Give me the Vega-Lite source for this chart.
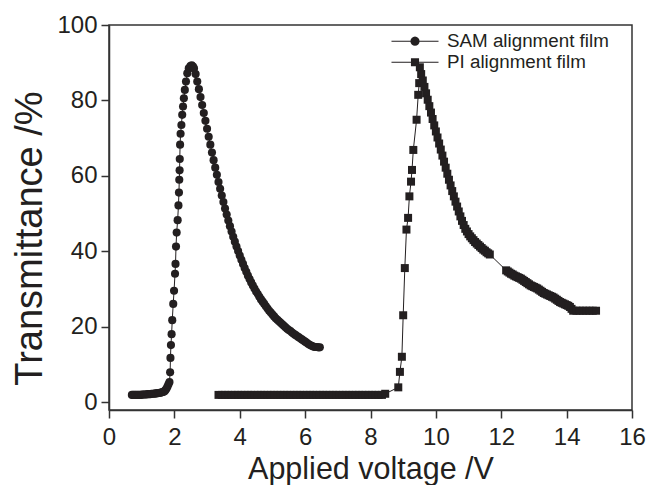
{
  "$schema": "https://vega.github.io/schema/vega-lite/v6.json",
  "width": 523,
  "height": 385,
  "autosize": {"type": "none"},
  "padding": {"left": 109, "top": 25, "right": 25, "bottom": 75},
  "background": "white",
  "config": {
    "view": {"stroke": "#333333", "strokeWidth": 1.5},
    "font": "Liberation Sans"
  },
  "datasets": {
    "sam": [
      {"x":0.70,"y":2.0},{"x":0.74,"y":2.0},{"x":0.78,"y":2.0},{"x":0.82,"y":2.0},{"x":0.86,"y":2.0},{"x":0.90,"y":2.0},{"x":0.94,"y":2.0},{"x":0.98,"y":2.0},
      {"x":1.02,"y":2.1},{"x":1.06,"y":2.1},{"x":1.10,"y":2.1},{"x":1.14,"y":2.1},{"x":1.18,"y":2.2},{"x":1.22,"y":2.2},{"x":1.26,"y":2.2},{"x":1.30,"y":2.3},
      {"x":1.34,"y":2.3},{"x":1.38,"y":2.3},{"x":1.42,"y":2.4},{"x":1.46,"y":2.4},{"x":1.50,"y":2.5},{"x":1.54,"y":2.5},{"x":1.58,"y":2.6},{"x":1.62,"y":2.7},
      {"x":1.66,"y":2.8},{"x":1.70,"y":3.0},{"x":1.73,"y":3.3},{"x":1.76,"y":3.7},{"x":1.79,"y":4.2},{"x":1.82,"y":4.8},{"x":1.85,"y":5.4},
      {"x":1.87,"y":8.0},{"x":1.88,"y":11.8},{"x":1.895,"y":15.2},{"x":1.915,"y":18.1},{"x":1.935,"y":21.8},{"x":1.965,"y":26.1},{"x":1.99,"y":29.6},
      {"x":2.02,"y":34.1},{"x":2.035,"y":36.7},{"x":2.05,"y":41.3},{"x":2.07,"y":45.0},{"x":2.10,"y":48.3},{"x":2.125,"y":52.2},{"x":2.14,"y":55.6},
      {"x":2.15,"y":59.0},{"x":2.16,"y":61.5},{"x":2.165,"y":64.5},{"x":2.175,"y":68.3},{"x":2.19,"y":71.2},{"x":2.215,"y":73.5},{"x":2.24,"y":76.2},
      {"x":2.265,"y":78.4},{"x":2.29,"y":80.6},{"x":2.32,"y":82.8},{"x":2.355,"y":85.0},{"x":2.395,"y":87.2},{"x":2.44,"y":88.5},{"x":2.49,"y":89.1},
      {"x":2.53,"y":89.3},{"x":2.57,"y":89.0},{"x":2.60,"y":88.5},{"x":2.65,"y":87.0},{"x":2.70,"y":85.0},{"x":2.75,"y":83.0},{"x":2.80,"y":80.9},
      {"x":2.85,"y":78.8},{"x":2.90,"y":76.7},{"x":2.95,"y":74.6},{"x":3.00,"y":72.5},{"x":3.05,"y":70.4},{"x":3.10,"y":68.3},{"x":3.15,"y":66.2},
      {"x":3.20,"y":64.2},{"x":3.25,"y":62.2},{"x":3.30,"y":60.3},{"x":3.35,"y":58.4},{"x":3.40,"y":56.6},{"x":3.45,"y":54.8},{"x":3.50,"y":53.1},
      {"x":3.55,"y":51.4},{"x":3.60,"y":49.8},{"x":3.65,"y":48.2},{"x":3.70,"y":46.7},{"x":3.75,"y":45.3},{"x":3.80,"y":43.9},{"x":3.85,"y":42.6},
      {"x":3.90,"y":41.3},{"x":3.95,"y":40.1},{"x":4.00,"y":38.9},{"x":4.05,"y":37.8},{"x":4.10,"y":36.7},{"x":4.15,"y":35.6},{"x":4.20,"y":34.6},
      {"x":4.25,"y":33.6},{"x":4.30,"y":32.7},{"x":4.35,"y":31.8},{"x":4.40,"y":31.0},{"x":4.45,"y":30.2},{"x":4.50,"y":29.4},{"x":4.55,"y":28.7},
      {"x":4.60,"y":28.0},{"x":4.65,"y":27.3},{"x":4.70,"y":26.7},{"x":4.75,"y":26.1},{"x":4.80,"y":25.5},{"x":4.85,"y":24.9},{"x":4.90,"y":24.3},
      {"x":4.95,"y":23.8},{"x":5.00,"y":23.3},{"x":5.05,"y":22.8},{"x":5.10,"y":22.3},{"x":5.15,"y":21.9},{"x":5.20,"y":21.5},{"x":5.25,"y":21.1},
      {"x":5.30,"y":20.7},{"x":5.35,"y":20.3},{"x":5.40,"y":19.9},{"x":5.45,"y":19.5},{"x":5.50,"y":19.2},{"x":5.55,"y":18.9},{"x":5.60,"y":18.5},
      {"x":5.65,"y":18.2},{"x":5.70,"y":17.9},{"x":5.75,"y":17.6},{"x":5.80,"y":17.3},{"x":5.85,"y":17.0},{"x":5.90,"y":16.7},{"x":5.95,"y":16.4},
      {"x":6.00,"y":16.1},{"x":6.05,"y":15.8},{"x":6.10,"y":15.5},{"x":6.15,"y":15.2},{"x":6.20,"y":15.0},{"x":6.25,"y":14.8},{"x":6.30,"y":14.7},
      {"x":6.35,"y":14.7},{"x":6.40,"y":14.6},{"x":6.45,"y":14.6}
    ],
    "pi": [
      {"x":3.35,"y":2.0},{"x":3.45,"y":2.0},{"x":3.55,"y":2.0},{"x":3.65,"y":2.0},{"x":3.75,"y":2.0},{"x":3.85,"y":2.0},{"x":3.95,"y":2.0},{"x":4.05,"y":2.0},
      {"x":4.15,"y":2.0},{"x":4.25,"y":2.0},{"x":4.35,"y":2.0},{"x":4.45,"y":2.0},{"x":4.55,"y":2.0},{"x":4.65,"y":2.0},{"x":4.75,"y":2.0},{"x":4.85,"y":2.0},
      {"x":4.95,"y":2.0},{"x":5.05,"y":2.0},{"x":5.15,"y":2.0},{"x":5.25,"y":2.0},{"x":5.35,"y":2.0},{"x":5.45,"y":2.0},{"x":5.55,"y":2.0},{"x":5.65,"y":2.0},
      {"x":5.75,"y":2.0},{"x":5.85,"y":2.0},{"x":5.95,"y":2.0},{"x":6.05,"y":2.0},{"x":6.15,"y":2.0},{"x":6.25,"y":2.0},{"x":6.35,"y":2.0},{"x":6.45,"y":2.0},
      {"x":6.55,"y":2.0},{"x":6.65,"y":2.0},{"x":6.75,"y":2.0},{"x":6.85,"y":2.0},{"x":6.95,"y":2.0},{"x":7.05,"y":2.0},{"x":7.15,"y":2.0},{"x":7.25,"y":2.0},
      {"x":7.35,"y":2.0},{"x":7.45,"y":2.0},{"x":7.55,"y":2.0},{"x":7.65,"y":2.0},{"x":7.75,"y":2.0},{"x":7.85,"y":2.0},{"x":7.95,"y":2.0},{"x":8.05,"y":2.0},
      {"x":8.15,"y":2.0},{"x":8.25,"y":2.0},{"x":8.35,"y":2.0},{"x":8.45,"y":2.3},
      {"x":8.85,"y":4.0},{"x":8.90,"y":8.1},{"x":8.96,"y":12.1},{"x":9.00,"y":23.1},{"x":9.05,"y":35.6},{"x":9.10,"y":45.8},{"x":9.15,"y":48.9},
      {"x":9.19,"y":54.6},{"x":9.24,"y":58.5},{"x":9.27,"y":61.6},{"x":9.31,"y":66.9},{"x":9.41,"y":74.9},{"x":9.46,"y":81.5},{"x":9.49,"y":84.6},
      {"x":9.51,"y":88.8},{"x":9.55,"y":87.0},{"x":9.60,"y":85.3},{"x":9.65,"y":83.6},{"x":9.70,"y":81.9},{"x":9.75,"y":80.2},{"x":9.80,"y":78.5},
      {"x":9.85,"y":76.8},{"x":9.90,"y":75.1},{"x":9.95,"y":73.4},{"x":10.00,"y":71.8},{"x":10.05,"y":70.2},{"x":10.10,"y":68.6},{"x":10.15,"y":67.0},
      {"x":10.20,"y":65.4},{"x":10.25,"y":63.8},{"x":10.30,"y":62.2},{"x":10.35,"y":60.6},{"x":10.40,"y":59.0},{"x":10.45,"y":57.5},{"x":10.50,"y":56.0},
      {"x":10.55,"y":54.6},{"x":10.60,"y":53.2},{"x":10.65,"y":51.9},{"x":10.70,"y":50.6},{"x":10.75,"y":49.3},{"x":10.80,"y":48.1},{"x":10.85,"y":47.0},
      {"x":10.90,"y":46.0},{"x":10.95,"y":45.3},{"x":11.00,"y":44.6},{"x":11.05,"y":44.0},{"x":11.10,"y":43.5},{"x":11.15,"y":43.0},{"x":11.20,"y":42.5},
      {"x":11.25,"y":42.1},{"x":11.30,"y":41.7},{"x":11.35,"y":41.3},{"x":11.40,"y":40.9},{"x":11.45,"y":40.5},{"x":11.50,"y":40.2},{"x":11.55,"y":39.8},
      {"x":11.60,"y":39.5},{"x":11.65,"y":39.2},
      {"x":12.15,"y":35.0},{"x":12.20,"y":34.7},{"x":12.25,"y":34.4},{"x":12.30,"y":34.1},{"x":12.35,"y":33.9},{"x":12.40,"y":33.6},{"x":12.45,"y":33.4},
      {"x":12.50,"y":33.2},{"x":12.55,"y":33.0},{"x":12.60,"y":32.8},{"x":12.65,"y":32.5},{"x":12.70,"y":32.2},{"x":12.75,"y":31.9},{"x":12.80,"y":31.6},
      {"x":12.85,"y":31.3},{"x":12.90,"y":31.0},{"x":12.95,"y":30.8},{"x":13.00,"y":30.6},{"x":13.05,"y":30.4},{"x":13.10,"y":30.2},{"x":13.15,"y":29.9},
      {"x":13.20,"y":29.6},{"x":13.25,"y":29.3},{"x":13.30,"y":29.0},{"x":13.35,"y":28.8},{"x":13.40,"y":28.6},{"x":13.45,"y":28.4},{"x":13.50,"y":28.2},
      {"x":13.55,"y":28.0},{"x":13.60,"y":27.8},{"x":13.65,"y":27.5},{"x":13.70,"y":27.2},{"x":13.75,"y":26.9},{"x":13.80,"y":26.6},{"x":13.85,"y":26.4},
      {"x":13.90,"y":26.2},{"x":13.95,"y":26.0},{"x":14.00,"y":25.8},{"x":14.05,"y":25.6},{"x":14.10,"y":25.3},{"x":14.15,"y":24.8},{"x":14.20,"y":24.3},
      {"x":14.30,"y":24.3},{"x":14.40,"y":24.3},{"x":14.50,"y":24.3},{"x":14.60,"y":24.3},{"x":14.70,"y":24.3},{"x":14.80,"y":24.3},{"x":14.90,"y":24.3}
    ]
  },
  "data": {"name": "sam"},
  "layer": [
    {
      "data": {"name": "sam"},
      "mark": {"type": "line", "color": "#231f20", "strokeWidth": 1},
      "encoding": {
        "x": {"field": "x", "type": "quantitative"},
        "y": {"field": "y", "type": "quantitative"}
      }
    },
    {
      "data": {"name": "pi"},
      "mark": {"type": "line", "color": "#231f20", "strokeWidth": 1},
      "encoding": {
        "x": {"field": "x", "type": "quantitative"},
        "y": {"field": "y", "type": "quantitative"}
      }
    },
    {
      "data": {"name": "sam"},
      "mark": {"type": "point", "shape": "circle", "filled": true, "color": "#231f20", "opacity": 1, "size": 66},
      "encoding": {
        "x": {"field": "x", "type": "quantitative"},
        "y": {"field": "y", "type": "quantitative"}
      }
    },
    {
      "data": {"name": "pi"},
      "mark": {"type": "point", "shape": "square", "filled": true, "color": "#231f20", "opacity": 1, "size": 64},
      "encoding": {
        "x": {"field": "x", "type": "quantitative"},
        "y": {"field": "y", "type": "quantitative"}
      }
    },
    {
      "data": {"name": "sam"},
      "transform": [{"calculate": "'SAM alignment film'", "as": "series"}],
      "mark": {"type": "point", "filled": true, "color": "#231f20", "opacity": 0, "size": 433},
      "encoding": {
        "x": {"field": "x", "type": "quantitative"},
        "y": {"field": "y", "type": "quantitative"},
        "shape": {"field": "series", "type": "nominal"}
      }
    },
    {
      "data": {"name": "pi"},
      "transform": [{"calculate": "'PI alignment film'", "as": "series"}],
      "mark": {"type": "point", "filled": true, "color": "#231f20", "opacity": 0, "size": 433},
      "encoding": {
        "x": {
          "field": "x", "type": "quantitative",
          "scale": {"domain": [0, 16], "nice": false, "zero": false},
          "axis": {
            "title": "Applied voltage /V",
            "values": [0,1,2,3,4,5,6,7,8,9,10,11,12,13,14,15,16],
            "labelExpr": "datum.value % 2 === 0 ? datum.label : ''",
            "grid": false,
            "domainColor": "#333333", "domainWidth": 1.5,
            "tickColor": "#333333", "tickWidth": 1.5, "tickSize": 8,
            "labelFont": "Liberation Sans", "labelFontSize": 24, "labelColor": "#231f20", "labelPadding": 7,
            "labelFlush": false, "labelOverlap": false,
            "titleFont": "Liberation Sans", "titleFontSize": 30.5, "titleFontWeight": "normal", "titleColor": "#231f20", "titlePadding": 5,
            "encode": {"ticks": {"update": {"y2": {"signal": "datum.value % 2 === 0 ? 8 : 4.5"}}}}
          }
        },
        "y": {
          "field": "y", "type": "quantitative",
          "scale": {"domain": [-2, 100], "nice": false, "zero": false},
          "axis": {
            "title": "Transmittance /%",
            "values": [0,10,20,30,40,50,60,70,80,90,100],
            "labelExpr": "datum.value % 20 === 0 ? datum.label : ''",
            "grid": false,
            "domainColor": "#333333", "domainWidth": 1.5,
            "tickColor": "#333333", "tickWidth": 1.5, "tickSize": 8,
            "labelFont": "Liberation Sans", "labelFontSize": 24, "labelColor": "#231f20", "labelPadding": 4,
            "labelFlush": false, "labelOverlap": false,
            "titleFont": "Liberation Sans", "titleFontSize": 38, "titleFontWeight": "normal", "titleColor": "#231f20", "titlePadding": 7,
            "titleY": 213,
            "encode": {"ticks": {"update": {"x2": {"signal": "datum.value % 20 === 0 ? -8 : -4.5"}}}}
          }
        },
        "shape": {
          "field": "series", "type": "nominal",
          "scale": {
            "domain": ["SAM alignment film", "PI alignment film"],
            "range": [
              "M -2.26 -0.05 L 2.26 -0.05 L 2.26 0.05 L -2.26 0.05 Z M 0.442 0 L 0.408 0.169 L 0.313 0.313 L 0.169 0.408 L 0 0.442 L -0.169 0.408 L -0.313 0.313 L -0.408 0.169 L -0.442 0 L -0.408 -0.169 L -0.313 -0.313 L -0.169 -0.408 L 0 -0.442 L 0.169 -0.408 L 0.313 -0.313 L 0.408 -0.169 Z",
              "M -2.26 -0.05 L 2.26 -0.05 L 2.26 0.05 L -2.26 0.05 Z M -0.39 -0.39 L 0.39 -0.39 L 0.39 0.39 L -0.39 0.39 Z"
            ]
          },
          "legend": {
            "title": null,
            "orient": "none",
            "legendX": 295.5,
            "legendY": 5.7,
            "padding": 0,
            "symbolSize": 433,
            "symbolOpacity": 1,
            "symbolFillColor": "#231f20",
            "symbolStrokeWidth": 0,
            "labelOffset": 21.5,
            "labelLimit": 400,
            "rowPadding": 0,
            "labelFont": "Liberation Sans",
            "labelFontSize": 18.8,
            "labelColor": "#231f20"
          }
        }
      }
    }
  ]
}
